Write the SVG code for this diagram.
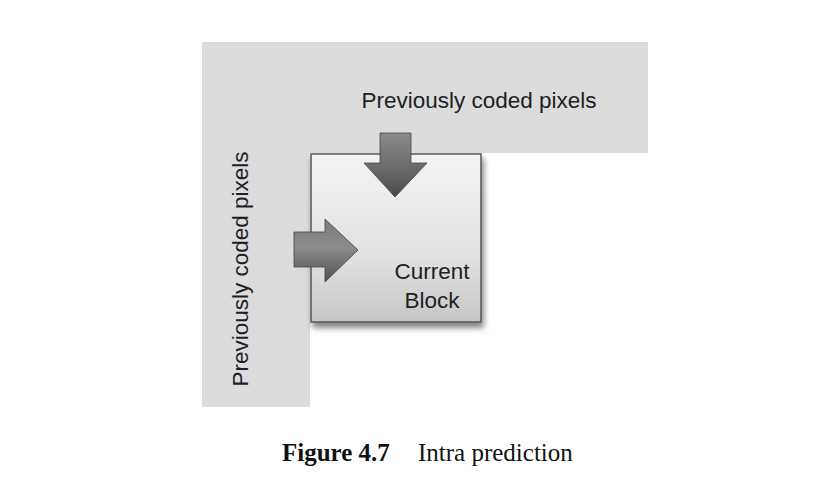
<svg xmlns="http://www.w3.org/2000/svg" width="819" height="498" viewBox="0 0 819 498">
<style>
.lbl{font-family:"Liberation Sans",Arial,sans-serif;font-size:22.5px;fill:#1e1e24}
.blk{font-family:"Liberation Sans",Arial,sans-serif;font-size:22.5px;fill:#1e1e24}
.cap{font-family:"Liberation Serif","Times New Roman",serif;font-size:25px;fill:#111}
.arrow{stroke:#444;stroke-width:0.8}
</style>
<defs>
<linearGradient id="blockFill" x1="0" y1="0" x2="0" y2="1">
<stop offset="0" stop-color="#f4f4f4"/>
<stop offset="0.6" stop-color="#e2e2e2"/>
<stop offset="1" stop-color="#c6c6c6"/>
</linearGradient>
<linearGradient id="downFill" x1="0" y1="0" x2="0" y2="1">
<stop offset="0" stop-color="#8a8a8a"/>
<stop offset="0.5" stop-color="#6e6e6e"/>
<stop offset="1" stop-color="#4a4a4a"/>
</linearGradient>
<linearGradient id="rightFill" x1="0" y1="0" x2="0" y2="1">
<stop offset="0" stop-color="#7a7a7a"/>
<stop offset="0.45" stop-color="#8c8c8c"/>
<stop offset="1" stop-color="#505050"/>
</linearGradient>
<filter id="shadow" x="-10%" y="-10%" width="125%" height="125%">
<feGaussianBlur in="SourceAlpha" stdDeviation="3"/>
<feOffset dx="2" dy="5" result="b"/>
<feComponentTransfer><feFuncA type="linear" slope="0.5"/></feComponentTransfer>
<feMerge><feMergeNode/><feMergeNode in="SourceGraphic"/></feMerge>
</filter>
</defs>
<rect width="819" height="498" fill="#ffffff"/>
<g id="previous-pixels">
<path d="M202,42 H648 V153 H310 V407 H202 Z" fill="#dcdcdc"/>
<text class="lbl" x="479" y="108" text-anchor="middle">Previously coded pixels</text>
<text class="lbl" transform="translate(248,269) rotate(-90)" text-anchor="middle">Previously coded pixels</text>
</g>
<g id="current-block">
<rect x="311" y="154" width="170" height="168" fill="url(#blockFill)" stroke="#555" stroke-width="1.5" filter="url(#shadow)"/>
<text class="blk" x="432" y="279" text-anchor="middle">Current</text>
<text class="blk" x="432" y="308" text-anchor="middle">Block</text>
</g>
<g id="connectors">
<path class="arrow" d="M380,133 H411 V163 H427 L395,197 L364,163 H380 Z" fill="url(#downFill)"/>
<path class="arrow" d="M294,232 H325 V219 L358,250 L325,282 V267 H294 Z" fill="url(#rightFill)"/>
</g>
<g id="caption">
<text class="cap" x="282" y="461"><tspan font-weight="bold">Figure 4.7</tspan><tspan x="418">Intra prediction</tspan></text>
</g>
</svg>
